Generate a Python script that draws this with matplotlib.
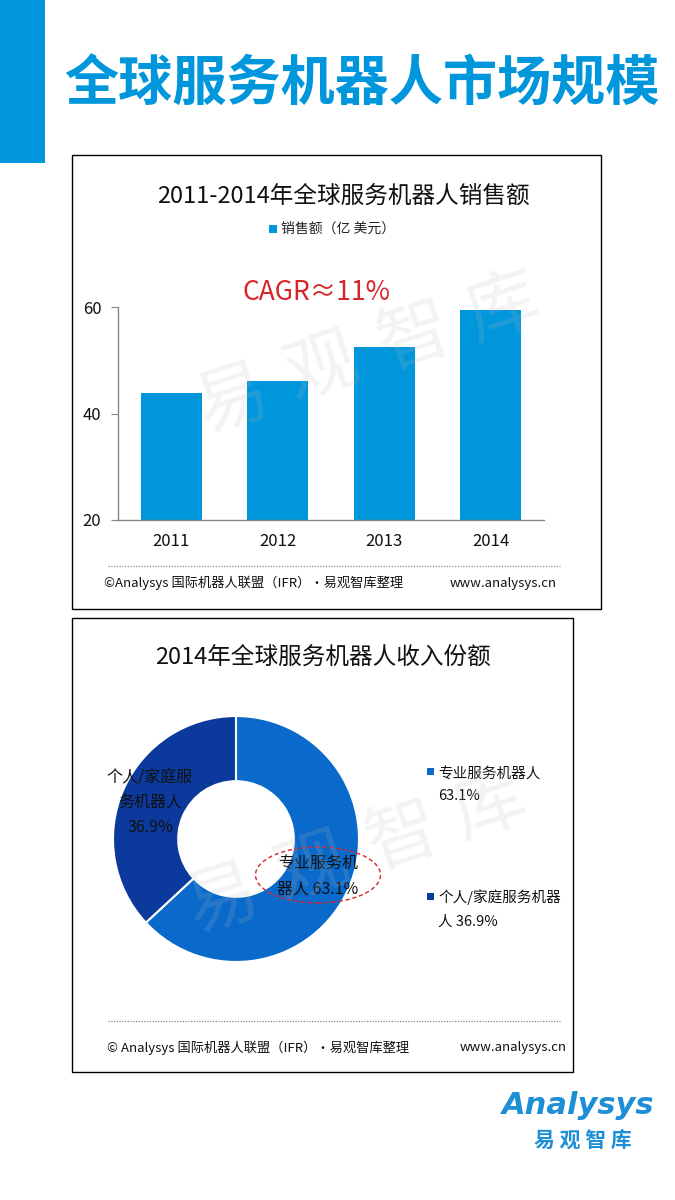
import matplotlib
matplotlib.use("Agg")
import matplotlib.pyplot as plt
from matplotlib.patches import Rectangle, Ellipse

plt.rcParams['font.family'] = ['Noto Sans CJK SC', 'DejaVu Sans']

# ---- data ----
page_title = "全球服务机器人市场规模"
bar_title = "2011-2014年全球服务机器人销售额"
bar_legend = "销售额（亿 美元）"
years = ["2011", "2012", "2013", "2014"]
sales = [43.8, 46.1, 52.5, 59.5]
y_ticks = [20, 40, 60]
cagr_text = "CAGR≈11%"

pie_title = "2014年全球服务机器人收入份额"
pie_labels = ["专业服务机器人", "个人/家庭服务机器人"]
pie_shares = [63.1, 36.9]
pie_inside = ["专业服务机\n器人 63.1%", "个人/家庭服\n务机器人\n36.9%"]
pie_legend = ["专业服务机器人\n63.1%", "个人/家庭服务机器\n人 36.9%"]

source_text = "©Analysys 国际机器人联盟（IFR）·易观智库整理"
source_text2 = "© Analysys 国际机器人联盟（IFR）·易观智库整理"
site_text = "www.analysys.cn"

W, H = 675, 1200
fig = plt.figure(figsize=(W / 100, H / 100), dpi=100)
fig.patch.set_facecolor("white")

def fx(x):
    return x / W

def fy(y):
    return 1 - y / H

def rect(x0, y0, x1, y1, **kw):
    fig.patches.append(Rectangle((fx(x0), fy(y1)), fx(x1) - fx(x0), fy(y0) - fy(y1),
                                 transform=fig.transFigure, **kw))

def text(x, y, s, **kw):
    fig.text(fx(x), fy(y), s, **kw)

BLUE = "#0096DB"
PRO = "#0A6ACB"
PER = "#0B399C"
RED = "#D7262B"

# left accent bar and main title
rect(0, 0, 45, 163, facecolor=BLUE, edgecolor="none")
text(362, 84, page_title, fontsize=39, fontweight="bold", color=BLUE,
     ha="center", va="center")

# panel boxes
rect(72, 155, 601, 609, facecolor="none", edgecolor="black", linewidth=1.0)
rect(72, 618, 573, 1072, facecolor="none", edgecolor="black", linewidth=1.0)

# ---- bar chart ----
text(343, 197, bar_title, fontsize=17, color="#111111", ha="center", va="center")
rect(269, 225, 277, 233, facecolor=BLUE, edgecolor="none")
text(281, 229, bar_legend, fontsize=10, color="#222222", ha="left", va="center")

ax = fig.add_axes([fx(118), fy(520), fx(544) - fx(118), fy(307) - fy(520)])
ax.patch.set_alpha(0)
xs = list(range(len(years)))
ax.bar(xs, sales, width=0.57, color=BLUE, bottom=0, zorder=2)
ax.set_ylim(20, 60)
ax.set_xlim(-0.5, 3.5)
ax.set_yticks(y_ticks)
ax.set_xticks(xs)
ax.set_xticklabels(years)
for s in ["top", "right"]:
    ax.spines[s].set_visible(False)
for s in ["left", "bottom"]:
    ax.spines[s].set_color("#888888")
    ax.spines[s].set_linewidth(1.0)
ax.tick_params(axis="y", length=5, color="#888888", labelsize=12, pad=7, labelcolor="#111111")
ax.tick_params(axis="x", length=0, labelsize=12, pad=9, labelcolor="#111111")

text(316, 292, cagr_text, fontsize=19, color=RED, ha="center", va="center")

# watermark 1
for ch, (x, y) in zip("易观智库", [(232, 400), (322, 368), (414, 338), (503, 308)]):
    text(x, y, ch, fontsize=52, color="#BBBBBB", alpha=0.17, ha="center", va="center",
         rotation=18, zorder=5)

# footer 1
fig.lines.append(plt.Line2D([fx(108), fx(560)], [fy(566), fy(566)], transform=fig.transFigure,
                            color="#888888", linestyle=(0, (1, 1.2)), linewidth=0.9))
text(104, 583, source_text, fontsize=9.5, color="#111111", ha="left", va="center")
text(557, 583, site_text, fontsize=9.5, color="#111111", ha="right", va="center")

# ---- donut chart ----
text(323, 657, pie_title, fontsize=17, color="#111111", ha="center", va="center")
cx, cy, r = 236, 839, 123
pax = fig.add_axes([fx(cx - r), fy(cy + r), fx(2 * r), fy(0) - fy(2 * r)])
wedges, _ = pax.pie(pie_shares, colors=[PRO, PER], startangle=90, counterclock=False,
                    radius=1.0, wedgeprops=dict(width=0.53, edgecolor="white", linewidth=1.5))
pax.set_xlim(-1, 1)
pax.set_ylim(-1, 1)
pax.set_aspect("equal")
pax.axis("off")

text(318, 877, pie_inside[0], fontsize=11.5, color="#111111", ha="center", va="center",
     linespacing=1.6)
text(150, 803, pie_inside[1], fontsize=11.5, color="#111111", ha="center", va="center",
     linespacing=1.6)
ell = Ellipse((fx(318), fy(875)), fx(125), fy(0) - fy(56), transform=fig.transFigure,
              facecolor="none", edgecolor=RED, linestyle=(0, (3, 2)), linewidth=1.0)
fig.patches.append(ell)

# legend 2
rect(427, 768, 434, 775, facecolor=PRO, edgecolor="none")
text(438, 785, pie_legend[0], fontsize=10.5, color="#111111", ha="left", va="center",
     linespacing=1.8)
rect(427, 893, 434, 900, facecolor=PER, edgecolor="none")
text(438, 909, pie_legend[1], fontsize=10.5, color="#111111", ha="left", va="center",
     linespacing=1.8)

# watermark 2
for ch, (x, y) in zip("易观智库", [(222, 900), (312, 868), (402, 838), (490, 806)]):
    text(x, y, ch, fontsize=52, color="#BBBBBB", alpha=0.17, ha="center", va="center",
         rotation=18, zorder=5)

# footer 2
fig.lines.append(plt.Line2D([fx(108), fx(560)], [fy(1021), fy(1021)], transform=fig.transFigure,
                            color="#888888", linestyle=(0, (1, 1.2)), linewidth=0.9))
text(107, 1048, source_text2, fontsize=9.5, color="#111111", ha="left", va="center")
text(567, 1048, site_text, fontsize=9.5, color="#111111", ha="right", va="center")

# logo
text(578, 1106, "Analysys", fontsize=22, fontweight="bold", style="italic", color="#1E8FD6",
     ha="center", va="center", family=["DejaVu Sans"])
text(583, 1140, "易 观 智 库", fontsize=15, fontweight="bold", color="#1E8FD6",
     ha="center", va="center")

fig.savefig("out.png", dpi=100, facecolor="white")
